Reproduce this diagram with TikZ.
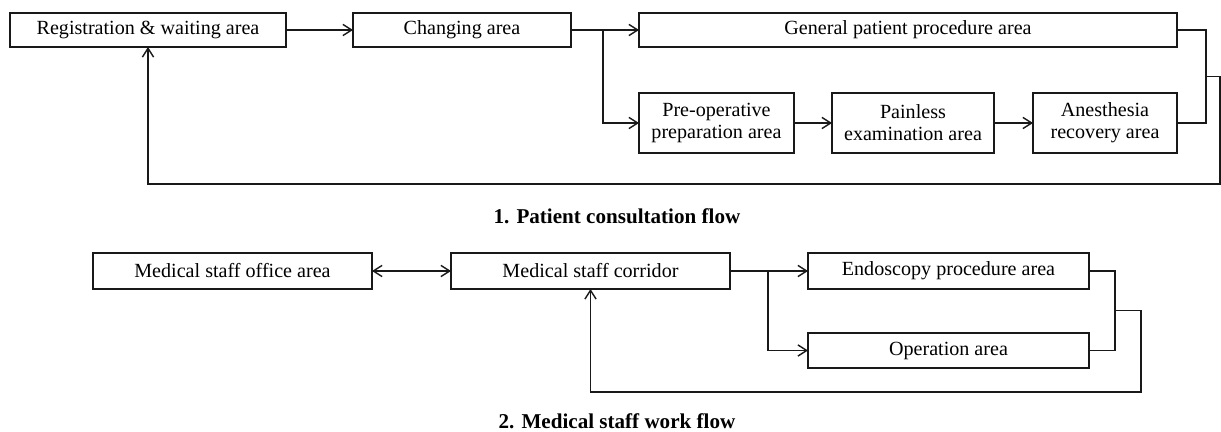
\documentclass[tikz,border=0pt]{standalone}
\usepackage{fontspec}
\setmainfont{Liberation Serif}
\usepackage{tikz}
\usetikzlibrary{positioning, arrows.meta, calc}

\begin{document}
\begin{tikzpicture}[
    >={Straight Barb[length=2.2mm, width=2.8mm]}, node distance=1.5cm,
    line width=1pt, draw=black!90,
    box/.style={draw, rectangle, inner sep=0pt, outer sep=0pt, minimum height=0.85cm, align=center, font=\fontsize{14.3}{15.5}\selectfont},
    tallbox/.style={box, minimum height=1.5cm},
    caption/.style={anchor=base, inner sep=0pt, font=\fontsize{15}{17}\selectfont\bfseries}
]
\useasboundingbox (0,0) rectangle (30.525,-10.8);

% Percorso paziente
\node[box, minimum width=6.9cm] (reg) at (3.7,-0.75) {Registration \& waiting area};
\node[box, minimum width=5.45cm, right=1.675cm of reg] (chg) {Changing area};
\node[box, minimum width=13.45cm, right=1.7cm of chg] (gen) {General patient procedure area};
\node[tallbox, minimum width=3.875cm, below=1.15cm of gen.south west, anchor=north west] (pre) {Pre-operative\\preparation area};
\node[tallbox, minimum width=4.05cm, right=0.95cm of pre] (pain) {Painless\\examination area};
\node[tallbox, minimum width=3.6cm, right=0.975cm of pain] (anes) {Anesthesia\\recovery area};

% Punti di giunzione
\coordinate (b1) at ($(chg.east)+(0.8,0)$);
\coordinate (j1) at ($(gen.east)+(0.725,0)$);
\coordinate (j2) at ($(j1)!0.5!(j1 |- anes.east)$);
\coordinate (e1) at ($(j2)+(0.35,0)$);
\coordinate (lp1) at ($(reg.south)+(0,-3.425)$);

% Frecce di collegamento
\draw[->] (reg) -- (chg);
\draw (chg) -- (b1);
\draw[->] (b1) -- (gen);
\draw[->] (b1) |- (pre);
\draw[->] (pre) -- (pain);
\draw[->] (pain) -- (anes);
\draw (gen.east) -- (j1) |- (anes.east);
\draw[->] (j2) -- (e1) |- (lp1) -- (reg);

\node[caption] (cap1) at (15.425,-5.6) {1. Patient consultation flow};

% Percorso personale medico
\node[box, minimum width=6.975cm, minimum height=0.9cm] (office) at (5.8125,-6.775) {Medical staff office area};
\node[box, minimum width=6.975cm, minimum height=0.9cm, right=1.975cm of office] (corr) {Medical staff corridor};
\node[box, minimum width=7.025cm, minimum height=0.9cm, right=1.95cm of corr] (endo) {Endoscopy procedure area};
\node[box, minimum width=7.025cm, minimum height=0.875cm, below=1.1cm of endo] (oper) {Operation area};

\coordinate (b2) at ($(corr.east)+(0.95,0)$);
\coordinate (j3) at ($(endo.east)+(0.65,0)$);
\coordinate (j4) at ($(j3)!0.5!(j3 |- oper.east)$);
\coordinate (e2) at ($(j4)+(0.65,0)$);
\coordinate (lp2) at ($(corr.south)+(0,-2.575)$);

\draw[<->] (office) -- (corr);
\draw (corr) -- (b2);
\draw[->] (b2) -- (endo);
\draw[->] (b2) |- (oper);
\draw (endo.east) -- (j3) |- (oper.east);
\draw[->] (j4) -- (e2) |- (lp2) -- (corr);

\node[caption] (cap2) at (15.425,-10.7) {2. Medical staff work flow};

\end{tikzpicture}
\end{document}
